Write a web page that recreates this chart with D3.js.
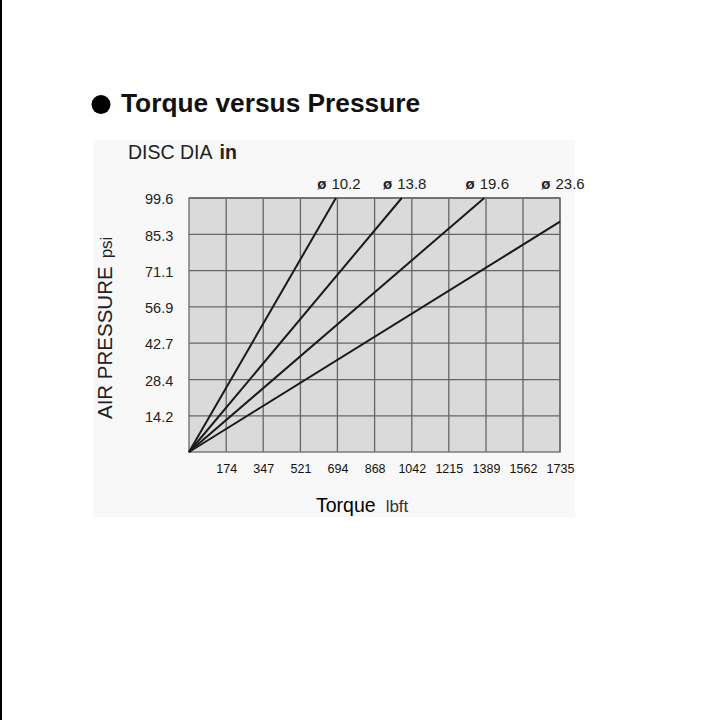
<!DOCTYPE html>
<html>
<head>
<meta charset="utf-8">
<script src="https://cdn.jsdelivr.net/npm/d3@7"></script>
<style>
  html, body { margin: 0; padding: 0; background: #fff; }
  svg { display: block; font-family: "Liberation Sans", Arial, sans-serif; }
</style>
</head>
<body>
<div id="chart"></div>
<script>
// tick values
const torqueTicks = [174, 347, 521, 694, 868, 1042, 1215, 1389, 1562, 1735];
const pressureTicks = [14.2, 28.4, 42.7, 56.9, 71.1, 85.3, 99.6];

// disc diameters (in) and where each straight line ends [torque, pressure]
const discs = ["10.2", "13.8", "19.6", "23.6"];
const lineEnds = [
  [687, 99.6],
  [995, 99.6],
  [1381, 99.6],
  [1735, 90.3],
];

const width = 705, height = 720;
const margin = { top: 198, right: 145, bottom: 268, left: 189 };

const svg = d3.select("#chart").append("svg")
  .attr("width", width)
  .attr("height", height)
  .attr("viewBox", [0, 0, width, height]);

// left border of the page image
svg.append("rect")
  .attr("x", 0).attr("y", 0)
  .attr("width", 2).attr("height", height)
  .attr("fill", "#000");

// faint panel behind the chart
svg.append("rect")
  .attr("x", 93).attr("y", 140)
  .attr("width", 482).attr("height", 377)
  .attr("fill", "#f8f8f8");

const x = d3.scaleLinear()
  .domain([0, 1735])
  .range([margin.left, width - margin.right]);

const y = d3.scaleLinear()
  .domain([0, 99.6])
  .range([height - margin.bottom, margin.top]);

// title
svg.append("circle")
  .attr("cx", 101).attr("cy", 104.5).attr("r", 9.5)
  .attr("fill", "#000");
svg.append("text")
  .attr("x", 121).attr("y", 111.5)
  .attr("font-size", 26.3)
  .attr("font-weight", "bold")
  .attr("fill", "#111")
  .text("Torque versus Pressure");

// legend heading
const head = svg.append("text")
  .attr("x", 128).attr("y", 159)
  .attr("font-size", 19.5)
  .attr("fill", "#222");
head.append("tspan").text("DISC DIA");
head.append("tspan").attr("dx", 7).attr("font-weight", "bold").text("in");

// plot area
svg.append("rect")
  .attr("x", x(0)).attr("y", y(99.6))
  .attr("width", x(1735) - x(0))
  .attr("height", y(0) - y(99.6))
  .attr("fill", "#dadada");

// grid
svg.append("g")
  .attr("stroke", "#666")
  .attr("stroke-width", 1.3)
  .call(g => g.selectAll(".v")
    .data(torqueTicks)
    .join("line")
    .attr("x1", d => x(d)).attr("x2", d => x(d))
    .attr("y1", y(0)).attr("y2", y(99.6)))
  .call(g => g.selectAll(".h")
    .data(pressureTicks)
    .join("line")
    .attr("x1", x(0)).attr("x2", x(1735))
    .attr("y1", d => y(d)).attr("y2", d => y(d)));

svg.append("rect")
  .attr("x", x(0)).attr("y", y(99.6))
  .attr("width", x(1735) - x(0))
  .attr("height", y(0) - y(99.6))
  .attr("fill", "none")
  .attr("stroke", "#6a6a6a")
  .attr("stroke-width", 1.3);

// x axis
const xAxis = svg.append("g")
  .attr("transform", `translate(0,${y(0) + 12})`)
  .call(d3.axisBottom(x).tickValues(torqueTicks).tickFormat(String).tickSize(0).tickPadding(0))
  .attr("font-size", null)
  .attr("font-family", null);
xAxis.select(".domain").remove();
xAxis.selectAll("text")
  .attr("font-size", 12.5)
  .attr("fill", "#111");

// y axis
const yAxis = svg.append("g")
  .attr("transform", `translate(175,0)`)
  .call(d3.axisLeft(y).tickValues(pressureTicks).tickFormat(String).tickSize(0).tickPadding(0))
  .attr("font-size", null)
  .attr("font-family", null);
yAxis.select(".domain").remove();
yAxis.selectAll("text")
  .attr("font-size", 14.5)
  .attr("fill", "#222")
  .attr("text-anchor", "start")
  .attr("x", -30)
  .attr("dy", "0.4em");

// torque lines
const line = d3.line().x(d => x(d[0])).y(d => y(d[1]));
svg.append("g")
  .selectAll("path")
  .data(lineEnds)
  .join("path")
  .attr("d", d => line([[0, 0], d]))
  .attr("fill", "none")
  .attr("stroke", "#1a1a1a")
  .attr("stroke-width", 2);

// diameter labels above the plot
const lab = svg.append("g")
  .selectAll("text")
  .data(discs)
  .join("text")
  .attr("x", (d, i) => x(lineEnds[i][0]) + 3)
  .attr("y", margin.top - 9)
  .attr("text-anchor", "middle")
  .attr("font-size", 15)
  .attr("fill", "#222");
lab.append("tspan").attr("font-weight", "bold").text("ø");
lab.append("tspan").attr("dx", 5).text(d => d);

// axis titles
const yt = svg.append("text")
  .attr("transform", "translate(112,419) rotate(-90)")
  .attr("fill", "#222");
yt.append("tspan").attr("font-size", 20.5).text("AIR PRESSURE");
yt.append("tspan").attr("dx", 8).attr("font-size", 17).text("psi");

const xt = svg.append("text")
  .attr("x", 316).attr("y", 511.5)
  .attr("fill", "#000");
xt.append("tspan").attr("font-size", 19.5).text("Torque");
xt.append("tspan").attr("dx", 10).attr("font-size", 17).attr("fill", "#333").text("lbft");
</script>
</body>
</html>
